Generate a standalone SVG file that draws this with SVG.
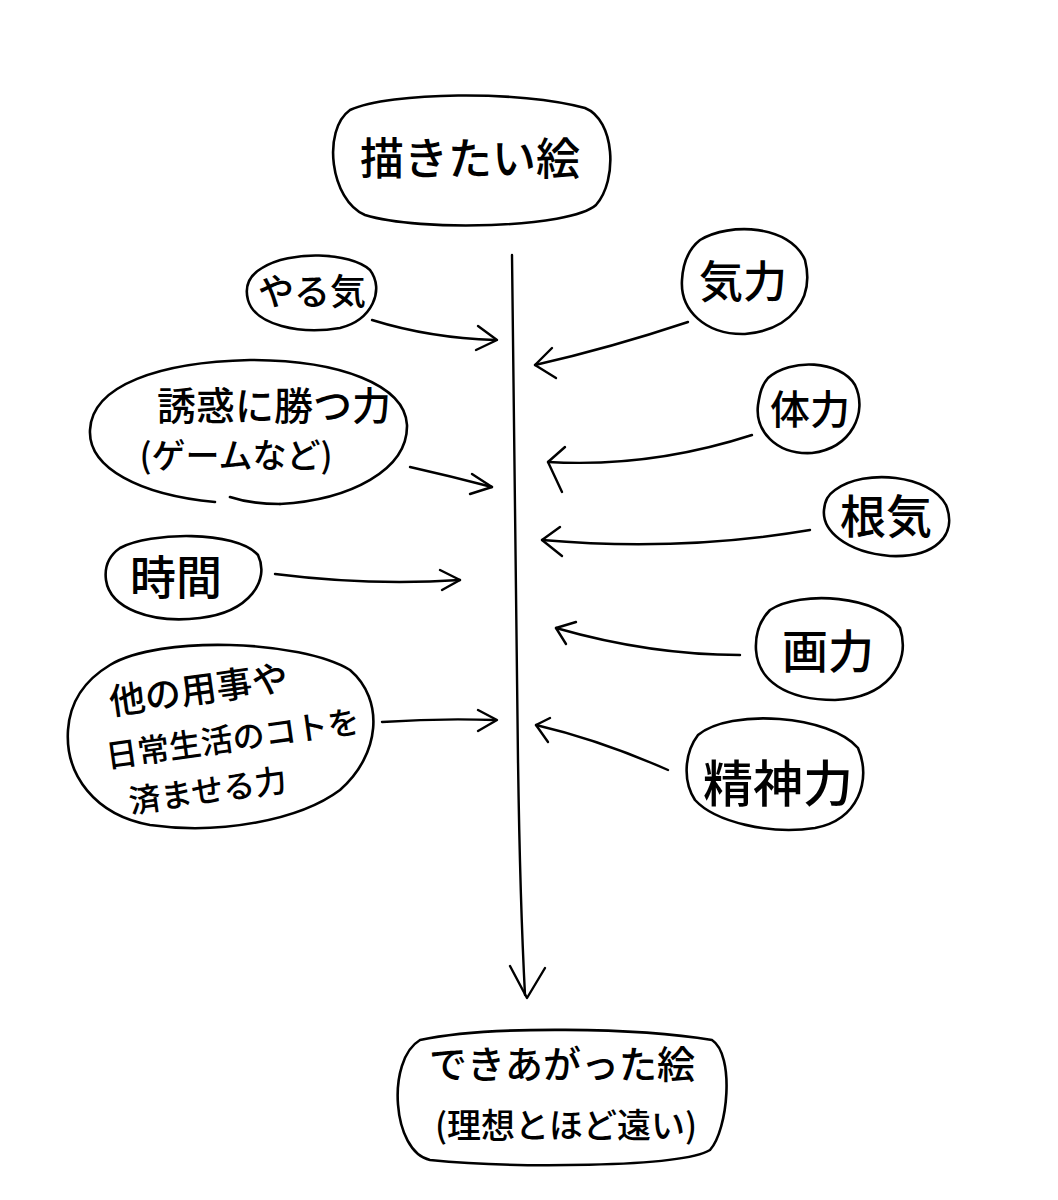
<svg xmlns="http://www.w3.org/2000/svg" width="1058" height="1200" viewBox="0 0 1058 1200">
<style>
.b{fill:none;stroke:#000;stroke-width:2.6;stroke-linecap:round;stroke-linejoin:round}
.c{fill:none;stroke:#000;stroke-width:2.4;stroke-linecap:round;stroke-linejoin:round}
.t{font-family:"Noto Sans CJK JP","Noto Sans CJK SC",sans-serif;fill:#000;text-anchor:middle;font-weight:500}
</style>
<rect width="1058" height="1200" fill="#fff"/>
<g id="connectors">
<path class="c" d="M512,255 Q515,500 518,760 Q520,900 525,995"/>
<path class="c" d="M510,966 L527,998 L545,968"/>
<path class="c" d="M372,320 Q430,338 495,340"/>
<path class="c" d="M478,326 L497,340 L476,350"/>
<path class="c" d="M688,322 Q610,348 535,365"/>
<path class="c" d="M552,348 L535,365 L556,378"/>
<path class="c" d="M410,467 Q450,476 492,487"/>
<path class="c" d="M472,474 L492,487 L470,494"/>
<path class="c" d="M752,435 Q650,468 548,462"/>
<path class="c" d="M565,447 L548,462 L562,492"/>
<path class="c" d="M810,530 Q680,552 542,540"/>
<path class="c" d="M560,527 L542,540 L562,556"/>
<path class="c" d="M275,574 Q370,586 460,580"/>
<path class="c" d="M440,570 L460,580 L442,590"/>
<path class="c" d="M740,655 Q650,655 556,628"/>
<path class="c" d="M576,622 L556,628 L566,644"/>
<path class="c" d="M382,722 Q440,718 495,720"/>
<path class="c" d="M478,710 L497,720 L478,731"/>
<path class="c" d="M668,770 Q600,740 536,725"/>
<path class="c" d="M550,718 L536,725 L548,742"/>
</g>
<g id="n-kakitai">
<path class="b" d="M350,110 C390,92 520,90 585,108 C615,120 618,180 596,205 C570,228 420,232 365,215 C330,200 322,130 350,110 Z"/>
<text class="t" x="470" y="175" font-size="44">描きたい絵</text>
</g>
<g id="n-yaruki">
<path class="b" d="M262,268 C290,250 350,252 370,270 C385,290 372,320 340,328 C300,335 255,325 248,300 C244,285 250,275 262,268 Z"/>
<text class="t" x="312" y="305" font-size="36">やる気</text>
</g>
<g id="n-kiryoku">
<path class="b" d="M700,240 C730,222 790,225 805,260 C815,300 790,330 745,334 C705,335 680,310 682,280 C683,262 690,248 700,240 Z"/>
<text class="t" x="743" y="298" font-size="44">気力</text>
</g>
<g id="n-yuwaku">
<path class="b" d="M215,502 C140,495 88,468 90,430 C92,385 160,362 250,360 C340,360 405,385 407,425 C408,470 350,500 280,504"/>
<path class="b" d="M230,497 C245,502 260,504 280,504"/>
<text class="t" x="274" y="420" font-size="39">誘惑に勝つ力</text>
<text class="t" x="236" y="468" font-size="34">(ゲームなど)</text>
</g>
<g id="n-tairyoku">
<path class="b" d="M768,378 C790,358 840,360 855,385 C868,412 852,448 812,453 C775,455 755,430 758,405 C760,392 762,385 768,378 Z"/>
<text class="t" x="810" y="424" font-size="40">体力</text>
</g>
<g id="n-konki">
<path class="b" d="M835,490 C865,468 930,475 946,505 C958,535 935,558 890,556 C845,552 822,530 824,510 C825,500 828,495 835,490 Z"/>
<text class="t" x="886" y="533" font-size="46">根気</text>
</g>
<g id="n-jikan">
<path class="b" d="M120,548 C150,532 235,530 258,555 C270,580 250,612 200,618 C150,624 110,608 106,580 C104,565 110,555 120,548 Z"/>
<text class="t" x="176" y="594" font-size="46">時間</text>
</g>
<g id="n-garyoku">
<path class="b" d="M770,610 C800,590 880,595 900,628 C912,665 885,698 835,700 C785,700 758,680 756,650 C755,632 760,620 770,610 Z"/>
<text class="t" x="828" y="668" font-size="46">画力</text>
</g>
<g id="n-tanoyouji">
<path class="b" d="M110,665 C160,635 300,640 350,670 C385,700 380,755 340,790 C300,820 220,835 150,825 C95,815 65,775 68,730 C70,700 85,680 110,665 Z"/>
<g transform="rotate(-8 220 735)">
<text class="t" x="205" y="700" font-size="36">他の用事や</text>
<text class="t" x="232" y="752" font-size="32">日常生活のコトを</text>
<text class="t" x="200" y="800" font-size="32">済ませる力</text>
</g>
</g>
<g id="n-seishin">
<path class="b" d="M698,735 C730,708 830,715 858,748 C872,780 858,820 815,828 C770,835 715,822 695,800 C682,780 685,752 698,735 Z"/>
<text class="t" x="778" y="802" font-size="50">精神力</text>
</g>
<g id="n-dekiagatta">
<path class="b" d="M420,1040 C490,1025 640,1028 712,1040 C735,1055 728,1130 710,1150 C680,1168 510,1168 430,1160 C392,1152 386,1060 420,1040 Z"/>
<text class="t" x="562" y="1078" font-size="38">できあがった絵</text>
<text class="t" x="566" y="1138" font-size="34">(理想とほど遠い)</text>
</g>
</svg>
